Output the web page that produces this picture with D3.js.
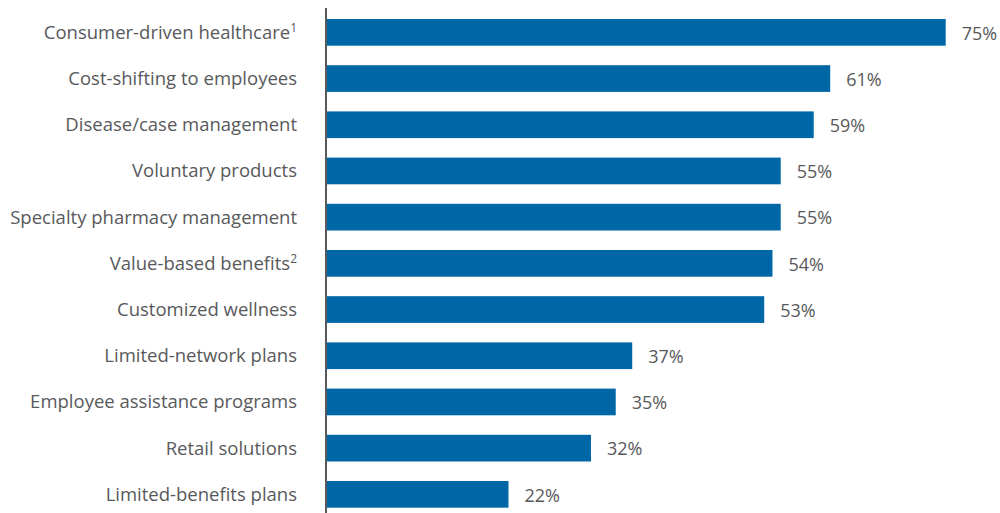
<!DOCTYPE html>
<html>
<head>
<meta charset="utf-8">
<script src="https://cdn.jsdelivr.net/npm/d3@7"></script>
<style>
  html, body { margin: 0; padding: 0; background: #ffffff; }
  svg { display: block; }
  text { font-family: "Open Sans", "Noto Sans", sans-serif; fill: #58595b; }
</style>
</head>
<body>
<svg id="chart" width="1000" height="513"></svg>
<script>
// Survey items, in display order (top to bottom)
const categories = [
  "Consumer-driven healthcare",
  "Cost-shifting to employees",
  "Disease/case management",
  "Voluntary products",
  "Specialty pharmacy management",
  "Value-based benefits",
  "Customized wellness",
  "Limited-network plans",
  "Employee assistance programs",
  "Retail solutions",
  "Limited-benefits plans"
];
// Share of respondents, percent
const values = [75, 61, 59, 55, 55, 54, 53, 37, 35, 32, 22];
// Footnote markers attached to some category labels
const footnotes = ["1", "", "", "", "", "2", "", "", "", "", ""];

const data = categories.map((c, i) => ({ category: c, value: values[i], note: footnotes[i] }));

const svg = d3.select("#chart");

const x = d3.scaleLinear().domain([0, 75]).range([327, 945.7]);
const y = d3.scaleBand()
  .domain(categories)
  .range([19, 507.7])
  .paddingInner(0.422)
  .paddingOuter(0);

// Bars
svg.append("g")
  .selectAll("rect")
  .data(data)
  .join("rect")
  .attr("x", x(0))
  .attr("y", d => y(d.category))
  .attr("width", d => x(d.value) - x(0))
  .attr("height", y.bandwidth())
  .attr("fill", "#0067a7");

// Vertical axis line (no ticks)
const axis = svg.append("g")
  .attr("transform", `translate(${x(0) - 1},0)`)
  .call(d3.axisLeft(y).tickSize(0).tickFormat(""));
axis.select(".domain")
  .attr("d", "M0,8V513")
  .attr("stroke", "#58595b")
  .attr("stroke-width", 2);

// Category labels
const labels = svg.append("g")
  .selectAll("text")
  .data(data)
  .join("text")
  .attr("x", 297)
  .attr("y", d => y(d.category) + y.bandwidth() / 2)
  .attr("dy", "0.35em")
  .attr("text-anchor", "end")
  .attr("font-size", 18.5);
labels.append("tspan").text(d => d.category);
labels.filter(d => d.note)
  .append("tspan")
  .attr("font-size", 12)
  .attr("baseline-shift", "55%")
  .text(d => d.note);

// Value labels
svg.append("g")
  .selectAll("text")
  .data(data)
  .join("text")
  .attr("x", d => x(d.value) + 16)
  .attr("y", d => y(d.category) + y.bandwidth() / 2)
  .attr("dy", "0.4em")
  .attr("font-size", 18)
  .text(d => d.value + "%");
</script>
</body>
</html>
